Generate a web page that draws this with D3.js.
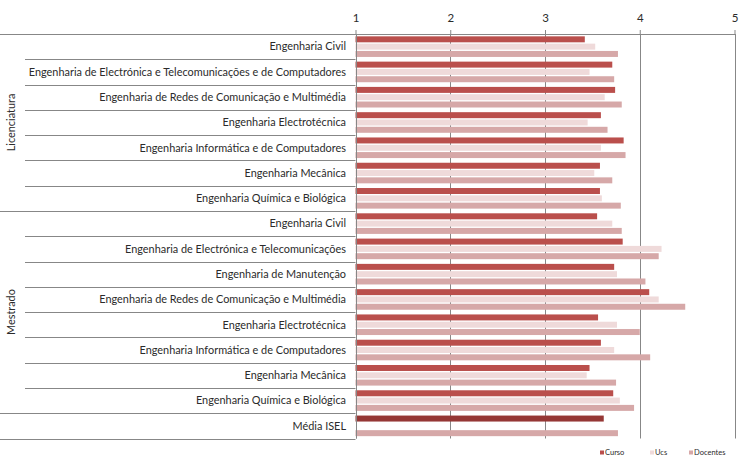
<!DOCTYPE html>
<html>
<head>
<meta charset="utf-8">
<script src="https://cdn.jsdelivr.net/npm/d3@7"></script>
<style>
  body { margin: 0; background: #fff; }
  svg { display: block; font-family: Lato, "Open Sans", sans-serif; }
</style>
</head>
<body>
<div id="chart"></div>
<script>
// Cursos (de cima para baixo)
const courses = [
  'Engenharia Civil',
  'Engenharia de Electrónica e Telecomunicações e de Computadores',
  'Engenharia de Redes de Comunicação e Multimédia',
  'Engenharia Electrotécnica',
  'Engenharia Informática e de Computadores',
  'Engenharia Mecânica',
  'Engenharia Química e Biológica',
  'Engenharia Civil',
  'Engenharia de Electrónica e Telecomunicações',
  'Engenharia de Manutenção',
  'Engenharia de Redes de Comunicação e Multimédia',
  'Engenharia Electrotécnica',
  'Engenharia Informática e de Computadores',
  'Engenharia Mecânica',
  'Engenharia Química e Biológica',
  'Média ISEL'
]
const courseGroup = [
  'Licenciatura', 'Licenciatura', 'Licenciatura', 'Licenciatura', 'Licenciatura', 'Licenciatura', 'Licenciatura',
  'Mestrado', 'Mestrado', 'Mestrado', 'Mestrado', 'Mestrado', 'Mestrado', 'Mestrado', 'Mestrado',
  ''
]
const groups = ['Licenciatura', 'Mestrado', '']

// Séries
const seriesNames = ['Curso', 'Ucs', 'Docentes']
const curso    = [3.42, 3.71, 3.74, 3.59, 3.83, 3.58, 3.58, 3.55, 3.82, 3.73, 4.10, 3.56, 3.59, 3.47, 3.72, 3.62]
const ucs      = [3.53, 3.47, 3.63, 3.45, 3.59, 3.52, 3.60, 3.71, 4.23, 3.76, 4.20, 3.76, 3.73, 3.44, 3.79, null]
const docentes = [3.77, 3.73, 3.81, 3.66, 3.85, 3.71, 3.80, 3.81, 4.20, 4.06, 4.48, 4.00, 4.11, 3.75, 3.94, 3.77]
const xTicks = [1, 2, 3, 4, 5]

const values = [curso, ucs, docentes]

const config = {
  width: 748,
  height: 463,
  plotTop: 34,
  plotBottom: 438.5,
  plotLeft: 355.5,
  plotRight: 734.5,
  colors: {
    Curso: '#BA4F4C',
    Ucs: '#EFDADA',
    Docentes: '#D6A8A8',
    media: '#953735',
    line: '#878787',
    text: '#2b2b2b'
  }
}

const { width, height, plotTop, plotBottom, plotLeft, plotRight, colors } = config

const svg = d3.select('#chart')
  .append('svg')
  .attr('width', width)
  .attr('height', height)

const x = d3.scaleLinear()
  .domain([1, 5])
  .range([plotLeft, plotRight])

const y = d3.scaleBand()
  .domain(d3.range(courses.length))
  .range([plotTop, plotBottom])

const ySub = d3.scaleBand()
  .domain(seriesNames)
  .range([0, y.bandwidth()])
  .paddingInner(0.18)
  .paddingOuter(0.32)

// Grelha vertical
svg.append('g')
  .selectAll('line')
  .data(xTicks)
  .join('line')
  .attr('x1', d => Math.round(x(d)) + 0.5)
  .attr('x2', d => Math.round(x(d)) + 0.5)
  .attr('y1', plotTop)
  .attr('y2', plotBottom)
  .attr('stroke', colors.line)
  .attr('stroke-width', 1)

// Barras
seriesNames.forEach((s, si) => {
  svg.append('g')
    .selectAll('rect')
    .data(values[si].map((v, i) => ({ v, i })).filter(d => d.v != null))
    .join('rect')
    .attr('x', x(1))
    .attr('y', d => y(d.i) + ySub(s))
    .attr('width', d => x(d.v) - x(1))
    .attr('height', ySub.bandwidth())
    .attr('fill', d => (s === 'Curso' && courseGroup[d.i] === '') ? colors.media : colors[s])
})

// Eixo X (topo)
const xAxis = svg.append('g')
  .attr('transform', `translate(0,${plotTop})`)
  .call(d3.axisTop(x).tickValues(xTicks).tickSize(4).tickPadding(8).tickFormat(d3.format('d')))
xAxis.select('.domain').remove()
xAxis.selectAll('line').attr('stroke', colors.line)
xAxis.selectAll('text')
  .attr('fill', colors.text)
  .style('font-size', '11.5px')
  .style('font-family', 'Lato, sans-serif')

// Linha superior do eixo (estende-se até à margem esquerda)
svg.append('line')
  .attr('x1', 0).attr('x2', plotRight + 1)
  .attr('y1', plotTop + 0.5).attr('y2', plotTop + 0.5)
  .attr('stroke', colors.line)

// Eixo Y
svg.append('line')
  .attr('x1', Math.round(plotLeft) + 0.5).attr('x2', Math.round(plotLeft) + 0.5)
  .attr('y1', plotTop).attr('y2', plotBottom)
  .attr('stroke', colors.line)

// Linhas entre categorias
const boundaries = d3.range(1, courses.length + 1)
svg.append('g')
  .selectAll('line')
  .data(boundaries)
  .join('line')
  .attr('x1', i => (i === courses.length || courseGroup[i] !== courseGroup[i - 1]) ? 0 : 25)
  .attr('x2', plotLeft)
  .attr('y1', i => Math.round(y(i - 1) + y.bandwidth()) + 0.5)
  .attr('y2', i => Math.round(y(i - 1) + y.bandwidth()) + 0.5)
  .attr('stroke', colors.line)

// Nomes dos cursos
svg.append('g')
  .selectAll('text')
  .data(courses)
  .join('text')
  .attr('x', 346)
  .attr('y', (d, i) => y(i) + y.bandwidth() / 2)
  .attr('dy', '0.35em')
  .attr('text-anchor', 'end')
  .attr('fill', colors.text)
  .attr('font-size', '10.9px')
  .text(d => d)

// Nomes dos grupos (vertical)
groups.filter(g => g !== '').forEach(g => {
  const idx = courseGroup.map((c, i) => c === g ? i : -1).filter(i => i >= 0)
  const y0 = y(idx[0])
  const y1 = y(idx[idx.length - 1]) + y.bandwidth()
  svg.append('text')
    .attr('transform', `translate(11,${(y0 + y1) / 2}) rotate(-90)`)
    .attr('text-anchor', 'middle')
    .attr('dy', '0.35em')
    .attr('fill', colors.text)
    .attr('font-size', '10.9px')
    .text(g)
})

// Legenda
const legendX = [600, 650, 689]
const legend = svg.append('g')
  .selectAll('g')
  .data(seriesNames)
  .join('g')
  .attr('transform', (d, i) => `translate(${legendX[i]},453)`)
legend.append('rect')
  .attr('x', 0).attr('y', -2.5)
  .attr('width', 4).attr('height', 4)
  .attr('fill', d => colors[d])
legend.append('text')
  .attr('x', 5)
  .attr('dy', '0.32em')
  .attr('fill', colors.text)
  .attr('font-size', '7.5px')
  .text(d => d)
</script>
</body>
</html>
